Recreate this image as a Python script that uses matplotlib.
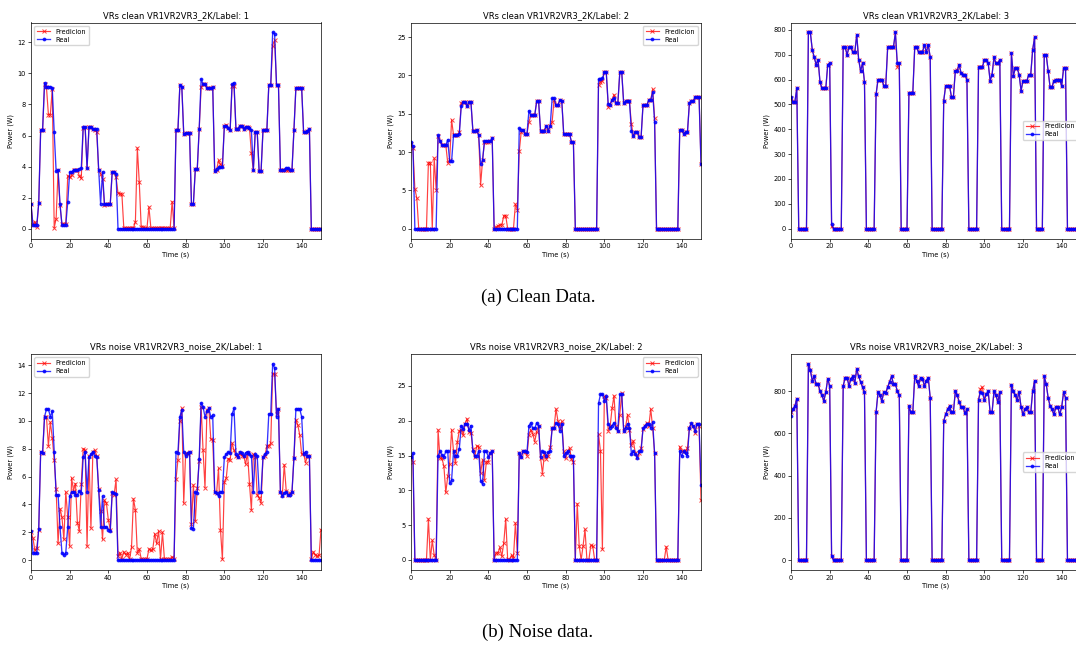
"""
Prediction vs real power for the three VR labels, clean and noisy data.
"""

import matplotlib
matplotlib.use("Agg")
import matplotlib.pyplot as plt
import numpy as np

time_s = np.arange(151)

# ---- clean data, label 1 ----
clean_1_real = [
    1.6, 0.25, 0.25, 0.25, 1.65, 6.35, 6.35, 9.4, 9.15, 9.15,
    9.15, 9.05, 6.2, 3.7, 3.8, 1.6, 0.25, 0.25, 0.25, 1.7,
    3.65, 3.65, 3.8, 3.8, 3.8, 3.85, 3.9, 6.55, 6.55, 3.9,
    6.55, 6.55, 6.4, 6.4, 6.45, 3.8, 1.6, 3.65, 1.6, 1.6,
    1.6, 1.6, 3.65, 3.65, 3.55, 0, 0, 0, 0, 0,
    0, 0, 0, 0, 0, 0, 0, 0, 0, 0,
    0, 0, 0, 0, 0, 0, 0, 0, 0, 0,
    0, 0, 0, 0, 0, 6.35, 6.35, 9.25, 9.15, 6.1,
    6.15, 6.15, 6.15, 1.6, 1.6, 3.85, 3.85, 6.45, 9.65, 9.3,
    9.3, 9.05, 9.05, 9.05, 9.1, 3.7, 3.85, 3.95, 3.95, 3.95,
    6.6, 6.6, 6.5, 6.35, 9.3, 9.4, 6.45, 6.45, 6.6, 6.6,
    6.45, 6.55, 6.55, 6.5, 6.35, 3.75, 6.25, 6.25, 3.7, 3.7,
    6.35, 6.35, 6.35, 9.25, 9.25, 12.65, 12.55, 9.25, 9.25, 3.8,
    3.8, 3.8, 3.9, 3.9, 3.8, 3.8, 6.35, 9.05, 9.05, 9.05,
    9.05, 6.2, 6.25, 6.3, 6.45, 0, 0, 0, 0, 0,
    0,
]
clean_1_pred = [
    1.6, 0.25, 0.45, 0.1, 1.65, 6.35, 6.35, 9.3, 9.1, 7.35,
    7.35, 9.0, 0.05, 0.65, 3.75, 1.5, 0.3, 0.3, 0.3, 3.4,
    3.3, 3.45, 3.75, 3.8, 3.8, 3.4, 3.25, 6.5, 6.55, 3.9,
    6.55, 6.55, 6.4, 6.35, 6.2, 3.75, 3.55, 3.2, 1.55, 1.6,
    1.6, 1.6, 3.65, 3.65, 3.3, 2.3, 2.25, 2.25, 0.05, 0.05,
    0.05, 0.05, 0.05, 0.05, 0.45, 5.2, 3.0, 0.1, 0.1, 0.05,
    0.05, 1.4, 0.05, 0.05, 0.05, 0.05, 0.05, 0.05, 0.05, 0.05,
    0.05, 0.05, 0.05, 1.75, 0.05, 6.35, 6.35, 9.25, 9.15, 6.1,
    6.15, 6.15, 6.15, 1.6, 1.6, 3.85, 3.85, 6.4, 9.1, 9.3,
    9.3, 9.05, 9.05, 9.05, 9.15, 3.7, 3.8, 4.4, 4.15, 4.05,
    6.6, 6.7, 6.5, 6.35, 9.2, 9.2, 6.45, 6.45, 6.6, 6.6,
    6.45, 6.55, 6.55, 6.5, 4.85, 3.75, 6.25, 6.25, 3.7, 3.7,
    6.35, 6.35, 6.35, 9.25, 9.25, 11.8, 12.15, 9.25, 9.25, 3.8,
    3.8, 3.8, 3.75, 3.75, 3.8, 3.8, 6.35, 9.05, 9.05, 9.05,
    9.05, 6.2, 6.25, 6.3, 6.45, 0, 0, 0, 0, 0,
    0,
]

# ---- clean data, label 2 ----
clean_2_real = [
    11.3, 10.8, 0, 0, 0, 0, 0, 0, 0, 0,
    0, 0, 0, 0, 12.2, 11.5, 10.9, 10.9, 10.9, 11.6,
    8.8, 8.8, 12.2, 12.2, 12.2, 12.4, 16.0, 16.5, 16.5, 16.0,
    16.5, 16.5, 12.8, 12.8, 12.9, 12.2, 8.4, 8.9, 11.4, 11.4,
    11.4, 11.4, 11.8, 0, 0, 0, 0, 0, 0, 0,
    0, 0, 0, 0, 0, 0, 13.1, 12.9, 12.9, 12.4,
    12.4, 15.4, 14.8, 14.8, 14.8, 16.6, 16.6, 12.8, 12.8, 12.8,
    13.4, 12.8, 13.4, 17.0, 17.0, 16.1, 16.1, 16.8, 16.6, 12.3,
    12.4, 12.4, 12.4, 11.3, 11.3, 0, 0, 0, 0, 0,
    0, 0, 0, 0, 0, 0, 0, 19.5, 19.5, 19.6,
    20.4, 20.4, 16.3, 16.2, 16.8, 17.1, 16.4, 16.4, 20.4, 20.4,
    16.4, 16.6, 16.6, 16.6, 12.7, 12.1, 12.6, 12.6, 12.0, 11.9,
    16.1, 16.1, 16.1, 16.8, 16.8, 17.8, 13.9, 0, 0, 0,
    0, 0, 0, 0, 0, 0, 0, 0, 0, 12.9,
    12.9, 12.4, 12.6, 12.6, 16.4, 16.6, 16.6, 17.2, 17.2, 17.2,
    8.4,
]
clean_2_pred = [
    11.0, 10.5, 5.2, 4.0, 0, 0, 0, 0, 0, 8.6,
    8.6, 0, 9.2, 5.1, 12.1, 11.5, 10.9, 10.9, 10.9, 8.6,
    9.0, 14.2, 12.2, 12.2, 12.2, 12.6, 16.4, 16.5, 16.5, 16.0,
    16.5, 16.5, 12.8, 12.8, 12.9, 12.2, 5.7, 8.9, 11.3, 11.3,
    11.3, 11.4, 11.8, 0, 0.2, 0.4, 0.5, 0.5, 1.7, 1.7,
    0, 0, 0, 0, 3.2, 2.5, 10.1, 12.6, 12.9, 12.4,
    12.4, 13.9, 14.8, 14.8, 14.8, 16.6, 16.6, 12.8, 12.8, 12.8,
    13.4, 12.8, 13.4, 13.9, 16.8, 16.1, 16.1, 16.8, 16.6, 12.3,
    12.4, 12.4, 12.4, 11.3, 11.3, 0, 0, 0, 0, 0,
    0, 0, 0, 0, 0, 0, 0, 18.8, 19.2, 19.3,
    20.4, 20.4, 15.9, 16.2, 16.8, 17.5, 16.4, 16.4, 20.4, 20.4,
    16.4, 16.6, 16.6, 16.6, 13.7, 12.1, 12.6, 12.6, 12.0, 11.9,
    16.1, 16.1, 16.1, 16.8, 16.8, 18.2, 14.5, 0, 0, 0,
    0, 0, 0, 0, 0, 0, 0, 0, 0, 12.9,
    12.9, 12.4, 12.6, 12.6, 16.4, 16.6, 16.6, 17.2, 17.2, 17.2,
    8.4,
]

# ---- clean data, label 3 ----
clean_3_real = [
    530, 510, 510, 565, 0, 0, 0, 0, 0, 790,
    790, 720, 690, 660, 680, 590, 565, 565, 565, 660,
    665, 20, 0, 0, 0, 0, 0, 730, 730, 700,
    730, 730, 710, 710, 780, 680, 635, 665, 590, 0,
    0, 0, 0, 0, 540, 600, 600, 600, 575, 575,
    730, 730, 730, 730, 790, 665, 665, 0, 0, 0,
    0, 545, 545, 545, 730, 730, 710, 710, 710, 740,
    710, 740, 690, 0, 0, 0, 0, 0, 0, 515,
    575, 575, 575, 530, 530, 635, 635, 660, 625, 620,
    620, 600, 0, 0, 0, 0, 0, 650, 650, 650,
    680, 680, 665, 595, 620, 690, 665, 665, 680, 0,
    0, 0, 0, 0, 705, 615, 645, 645, 620, 555,
    595, 595, 595, 620, 620, 720, 770, 0, 0, 0,
    0, 700, 700, 635, 570, 570, 595, 600, 600, 600,
    575, 645, 645, 0, 0, 0, 0, 0, 0, 0,
    0,
]
clean_3_pred = [
    525, 510, 510, 565, 0, 0, 0, 0, 0, 790,
    790, 720, 690, 660, 680, 590, 565, 565, 565, 660,
    665, 10, 0, 0, 0, 0, 0, 730, 730, 700,
    730, 730, 710, 710, 780, 680, 635, 665, 590, 0,
    0, 0, 0, 0, 540, 600, 600, 600, 575, 575,
    730, 730, 730, 730, 790, 650, 665, 0, 0, 0,
    0, 545, 545, 545, 730, 730, 710, 710, 710, 740,
    710, 740, 690, 0, 0, 0, 0, 0, 0, 515,
    575, 575, 575, 530, 530, 635, 640, 660, 625, 620,
    620, 600, 0, 0, 0, 0, 0, 650, 650, 650,
    680, 680, 665, 595, 620, 690, 665, 665, 680, 0,
    0, 0, 0, 0, 705, 615, 645, 645, 620, 555,
    595, 595, 595, 620, 620, 720, 770, 0, 0, 0,
    0, 700, 700, 635, 570, 570, 595, 600, 600, 600,
    575, 645, 645, 0, 0, 0, 0, 0, 0, 0,
    0,
]

# ---- noise data, label 1 ----
noise_1_real = [
    2.1, 0.55, 0.5, 0.5, 2.25, 7.8, 7.7, 10.3, 10.85, 10.85,
    10.3, 10.7, 7.8, 4.7, 4.7, 2.4, 0.55, 0.35, 0.55, 2.4,
    4.6, 4.9, 4.9, 4.7, 4.7, 4.95, 4.85, 7.4, 7.8, 4.9,
    7.4, 7.6, 7.8, 7.5, 7.4, 5.05, 2.35, 4.6, 2.4, 2.4,
    2.2, 2.1, 4.9, 4.8, 4.75, 0, 0, 0, 0, 0,
    0, 0, 0, 0, 0, 0, 0, 0, 0, 0,
    0, 0, 0, 0, 0, 0, 0, 0, 0, 0,
    0, 0, 0, 0, 0, 7.8, 7.7, 10.3, 10.8, 7.75,
    7.5, 7.7, 7.8, 2.3, 2.25, 4.9, 4.85, 7.3, 11.3, 11.0,
    10.3, 10.7, 10.9, 10.3, 10.4, 4.9, 4.8, 4.6, 4.9, 4.9,
    7.4, 7.6, 7.75, 7.7, 10.5, 10.9, 7.6, 7.4, 7.8, 7.7,
    7.45, 7.7, 7.8, 7.6, 7.5, 4.9, 7.6, 7.5, 4.9, 4.9,
    7.4, 7.6, 7.75, 10.5, 10.5, 14.1, 13.8, 10.3, 10.85, 4.9,
    4.6, 4.85, 4.9, 4.7, 4.7, 4.9, 7.35, 10.85, 10.85, 10.85,
    10.3, 7.6, 7.8, 7.5, 7.45, 0, 0, 0, 0, 0,
    0,
]
noise_1_pred = [
    2.0, 1.6, 0.7, 0.9, 2.2, 7.8, 7.7, 10.3, 10.3, 8.2,
    9.9, 8.8, 7.2, 5.1, 1.2, 3.7, 3.1, 1.5, 4.9, 3.1,
    1.0, 5.9, 5.0, 5.5, 2.7, 2.1, 5.5, 8.0, 7.9, 1.0,
    7.5, 2.3, 7.8, 7.9, 7.5, 5.1, 3.5, 1.5, 4.3, 4.1,
    2.9, 2.2, 4.85, 4.7, 5.8, 0.3, 0.55, 0.1, 0.6, 0.4,
    0.55, 0.05, 0.95, 4.4, 3.6, 0.5, 0.8, 0.1, 0.05, 0.05,
    0.1, 0.8, 0.7, 0.8, 1.9, 1.2, 2.1, 0.1, 2.0, 0.1,
    0.05, 0.05, 0.05, 0.25, 0.1, 5.8, 7.2, 10.0, 10.9, 4.1,
    7.7, 7.6, 7.8, 2.6, 5.4, 2.8, 5.2, 7.1, 11.0, 7.9,
    5.2, 10.75, 10.9, 8.7, 8.6, 4.9, 4.85, 6.6, 2.2, 0.05,
    5.6, 5.9, 7.3, 7.2, 8.4, 7.9, 7.5, 7.4, 7.7, 7.5,
    7.5, 6.9, 7.7, 5.5, 3.6, 7.6, 7.4, 4.7, 4.5, 4.1,
    7.4, 7.5, 8.2, 8.2, 8.4, 13.4, 13.4, 10.5, 10.85, 4.9,
    4.7, 6.85, 5.0, 4.7, 4.8, 4.9, 7.35, 10.1, 9.7, 9.0,
    7.6, 7.7, 7.0, 7.5, 7.45, 0.05, 0.6, 0.4, 0.3, 0.35,
    2.2,
]

# ---- noise data, label 2 ----
noise_2_real = [
    14.8, 15.3, 0, 0, 0, 0, 0, 0, 0, 0,
    0, 0, 0, 0, 15.0, 15.6, 15.1, 14.8, 15.6, 15.6,
    11.0, 11.5, 15.6, 15.0, 15.0, 16.0, 19.3, 18.8, 19.6, 19.6,
    18.7, 19.3, 15.6, 15.0, 15.0, 15.6, 11.4, 10.9, 15.6, 15.6,
    14.8, 15.4, 15.6, 0, 0, 0, 0, 0, 0, 0,
    0, 0, 0, 0, 0, 0, 15.3, 14.8, 15.6, 15.6,
    15.5, 19.3, 19.7, 18.9, 18.9, 19.7, 19.2, 14.8, 15.6, 15.5,
    15.0, 15.5, 15.6, 18.9, 18.9, 19.7, 19.5, 18.6, 19.6, 15.0,
    15.3, 15.6, 15.0, 15.0, 14.9, 0, 0, 0, 0, 0,
    0, 0, 0, 0, 0, 0, 0, 22.5, 23.8, 23.8,
    22.9, 23.5, 19.6, 19.0, 19.3, 19.7, 19.0, 18.6, 23.8, 23.8,
    18.6, 19.0, 19.6, 19.0, 15.2, 15.6, 15.2, 14.7, 15.6, 15.6,
    18.9, 19.2, 19.6, 19.6, 19.0, 19.8, 15.3, 0, 0, 0,
    0, 0, 0, 0, 0, 0, 0, 0, 0, 15.6,
    14.9, 15.6, 15.3, 15.0, 19.0, 19.7, 19.2, 18.6, 19.6, 19.6,
    10.8,
]
noise_2_pred = [
    14.8, 14.1, 0, 0, 0, 0, 0, 0, 0, 5.9,
    0, 2.8, 0.7, 0, 18.7, 14.6, 14.6, 13.5, 9.7, 12.0,
    13.8, 18.7, 15.6, 13.9, 17.0, 18.6, 18.7, 17.9, 19.6, 20.3,
    18.4, 18.3, 16.0, 14.8, 16.4, 16.3, 12.5, 14.4, 11.5, 14.1,
    14.1, 15.4, 15.6, 0, 1.0, 1.0, 1.8, 0.5, 2.5, 5.9,
    0.1, 0, 0.7, 0.3, 5.3, 1.0, 15.3, 14.8, 15.6, 15.5,
    15.0, 18.0, 18.7, 18.1, 17.0, 18.4, 19.2, 14.7, 12.4, 15.2,
    14.5, 15.0, 16.2, 18.9, 19.0, 21.7, 20.0, 19.0, 19.9, 15.6,
    14.6, 15.6, 16.1, 14.5, 14.1, 0, 8.1, 2.0, 0, 2.0,
    4.4, 0, 0, 2.1, 2.0, 0, 0, 18.1, 15.6, 1.5,
    23.5, 23.3, 18.6, 19.2, 21.8, 23.6, 19.2, 18.5, 20.9, 24.0,
    18.6, 19.1, 20.9, 18.7, 16.5, 17.1, 15.4, 14.8, 15.3, 16.1,
    18.8, 19.3, 19.7, 19.2, 21.7, 19.0, 15.3, 0, 0, 0,
    0, 0, 1.9, 0, 0, 0, 0, 0, 0, 16.3,
    15.7, 15.6, 15.6, 16.1, 19.0, 19.6, 19.2, 18.2, 19.6, 19.2,
    8.6,
]

# ---- noise data, label 3 ----
noise_3_real = [
    685, 715, 730, 765, 0, 0, 0, 0, 0, 930,
    900, 850, 870, 835, 835, 800, 780, 755, 795, 860,
    825, 20, 0, 0, 0, 0, 0, 825, 865, 865,
    825, 860, 870, 840, 905, 870, 845, 820, 795, 0,
    0, 0, 0, 0, 700, 795, 780, 755, 795, 790,
    820, 845, 870, 835, 835, 800, 780, 0, 0, 0,
    0, 730, 700, 700, 870, 850, 825, 865, 860, 825,
    850, 865, 770, 0, 0, 0, 0, 0, 0, 660,
    690, 715, 730, 700, 700, 800, 780, 750, 725, 725,
    695, 715, 0, 0, 0, 0, 0, 760, 795, 790,
    760, 785, 800, 700, 700, 800, 780, 750, 795, 0,
    0, 0, 0, 0, 830, 800, 780, 760, 795, 725,
    690, 715, 725, 700, 700, 800, 850, 0, 0, 0,
    0, 870, 835, 770, 730, 715, 690, 725, 725, 690,
    725, 795, 770, 0, 0, 0, 0, 0, 0, 0,
    0,
]
noise_3_pred = [
    700, 715, 730, 765, 0, 0, 0, 0, 0, 930,
    900, 850, 870, 835, 835, 800, 780, 755, 795, 860,
    825, 20, 0, 0, 0, 0, 0, 825, 865, 865,
    825, 860, 870, 840, 905, 870, 845, 820, 795, 0,
    0, 0, 0, 0, 700, 795, 780, 755, 795, 790,
    820, 845, 870, 835, 835, 800, 780, 0, 0, 0,
    0, 730, 700, 700, 870, 850, 825, 865, 860, 825,
    850, 865, 770, 0, 0, 0, 0, 0, 0, 660,
    690, 715, 730, 700, 700, 800, 780, 750, 725, 725,
    695, 715, 0, 0, 0, 0, 0, 760, 810, 820,
    760, 785, 800, 700, 700, 800, 780, 750, 795, 0,
    0, 0, 0, 0, 830, 800, 780, 760, 795, 725,
    690, 715, 725, 700, 700, 800, 850, 0, 0, 0,
    0, 870, 835, 770, 730, 715, 690, 725, 725, 690,
    725, 795, 770, 0, 0, 0, 0, 0, 0, 0,
    0,
]

SMALL = 4.8


def plot_panel(ax, title, pred, real, legend_loc, ylim=None):
    ax.plot(time_s, pred, color="red", marker="x", alpha=0.75, lw=0.85,
            ms=3, mew=0.7, label="Predicion")
    ax.plot(time_s, real, color="blue", marker=".", alpha=0.8, lw=0.95,
            ms=3.5, label="Real")
    ax.set_xlim(0, 150)
    if ylim is not None:
        ax.set_ylim(*ylim)
    ax.set_title(title, fontsize=6, pad=3.5)
    ax.set_xlabel("Time (s)", fontsize=SMALL, labelpad=1.5)
    ax.set_ylabel("Power (W)", fontsize=SMALL, labelpad=2.5)
    ax.tick_params(labelsize=SMALL, length=2, width=0.5, pad=1.5)
    for sp in ax.spines.values():
        sp.set_linewidth(0.5)
    ax.legend(loc=legend_loc, fontsize=SMALL, handlelength=2.0,
              borderpad=0.4, labelspacing=0.3, framealpha=0.8)


fig = plt.figure(figsize=(10.76, 6.46), dpi=100)

W, H = 1076, 646
col_left = [31, 411, 791]
row_top = [22.5, 354]
ax_w, ax_h = 290, 216


def make_ax(r, c):
    left = col_left[c] / W
    bottom = (H - row_top[r] - ax_h) / H
    return fig.add_axes([left, bottom, ax_w / W, ax_h / H])


plot_panel(make_ax(0, 0), "VRs clean VR1VR2VR3_2K/Label: 1",
           clean_1_pred, clean_1_real, "upper left")
plot_panel(make_ax(0, 1), "VRs clean VR1VR2VR3_2K/Label: 2",
           clean_2_pred, clean_2_real, "upper right", ylim=(-1.28, 26.9))
plot_panel(make_ax(0, 2), "VRs clean VR1VR2VR3_2K/Label: 3",
           clean_3_pred, clean_3_real, "center right")
plot_panel(make_ax(1, 0), "VRs noise VR1VR2VR3_noise_2K/Label: 1",
           noise_1_pred, noise_1_real, "upper left")
plot_panel(make_ax(1, 1), "VRs noise VR1VR2VR3_noise_2K/Label: 2",
           noise_2_pred, noise_2_real, "upper right", ylim=(-1.45, 29.6))
plot_panel(make_ax(1, 2), "VRs noise VR1VR2VR3_noise_2K/Label: 3",
           noise_3_pred, noise_3_real, "center right")

fig.text(538 / W, 1 - 297 / H, "(a) Clean Data.", ha="center", va="center",
         fontsize=13.5, family="Liberation Serif")
fig.text(538 / W, 1 - 632 / H, "(b) Noise data.", ha="center", va="center",
         fontsize=13.5, family="Liberation Serif")

fig.savefig("out.png", dpi=100)
